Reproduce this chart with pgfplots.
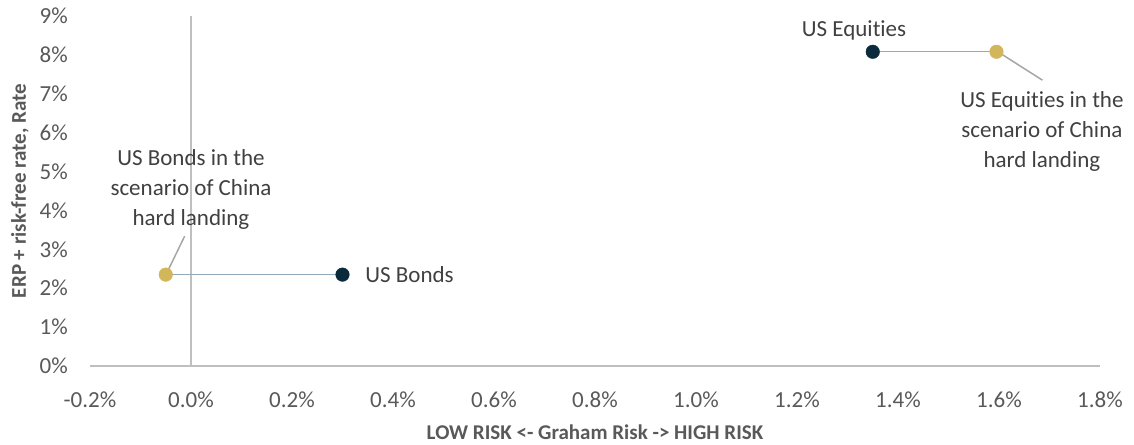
\documentclass[border=0pt]{standalone}
\usepackage{pgfplots}
\pgfplotsset{compat=1.18}
\usepackage{fontspec}
\setmainfont{Carlito}[Ligatures={NoCommon}]
\definecolor{navy}{HTML}{0B2B3C}
\definecolor{gold}{HTML}{D2B65B}
\definecolor{conn}{HTML}{93ABBA}
\definecolor{lead}{HTML}{A6A6A6}
\definecolor{axisgray}{HTML}{BFBFBF}
\definecolor{tickgray}{HTML}{595959}
\definecolor{txt}{HTML}{404040}
\begin{document}
\begin{tikzpicture}[x=1bp,y=1bp]
\useasboundingbox (0,0) rectangle (1134,445);
\begin{axis}[
  at={(90bp,79bp)}, anchor=south west,
  scale only axis, width=1010bp, height=350bp,
  xmin=-0.2, xmax=1.8, ymin=0, ymax=9,
  clip=false,
  axis line style={draw=none},
  major tick length=0pt,
  xtick={-0.2,0,0.2,0.4,0.6,0.8,1.0,1.2,1.4,1.6,1.8},
  ytick={0,1,2,3,4,5,6,7,8,9},
  /pgf/number format/assume math mode=true,
  xticklabel={\pgfmathprintnumber[fixed,fixed zerofill,precision=1]{\tick}\%},
  yticklabel={\pgfmathprintnumber[fixed,precision=0]{\tick}\%},
  tick label style={font=\fontsize{23bp}{28bp}\selectfont, text=tickgray},
  xticklabel style={anchor=center, yshift=-34bp},
  yticklabel style={anchor=east, inner sep=0pt, xshift=-22bp},
]
% axis lines at y=0 and x=0
\draw[axisgray, line width=1.6bp] (axis cs:-0.2,0) -- (axis cs:1.8,0);
\draw[axisgray, line width=1.6bp] (axis cs:0,0) -- (axis cs:0,9);
% connectors
\addplot[conn, line width=1bp, no marks] coordinates {(-0.05,2.35) (0.30,2.35)};
\addplot[conn, line width=1bp, no marks] coordinates {(1.35,8.08) (1.595,8.08)};
% points
\addplot[only marks, mark=*, mark size=6.8bp, draw=navy, fill=navy] coordinates {(0.30,2.35)};
\addplot[only marks, mark=*, mark size=6.8bp, draw=navy, fill=navy] coordinates {(1.35,8.08)};
\addplot[only marks, mark=*, mark size=6.8bp, draw=gold, fill=gold] coordinates {(-0.05,2.35)};
\addplot[only marks, mark=*, mark size=6.8bp, draw=gold, fill=gold] coordinates {(1.595,8.08)};
% leader lines
\draw[lead, line width=1.5bp] (axis cs:-0.0125,3.34) -- (axis cs:-0.048,2.39);
\draw[lead, line width=1.5bp] (axis cs:1.599,8.07) -- (axis cs:1.686,7.35);
% data labels
\node[anchor=west, inner sep=0pt, text=txt, font=\fontsize{23bp}{29bp}\selectfont] at (axis cs:0.345,2.35) {US Bonds};
\node[align=center, inner sep=0pt, text=txt, font=\fontsize{23bp}{30bp}\selectfont] at (axis cs:0.0,4.55) {US Bonds in the\\scenario of China\\hard landing};
\node[inner sep=0pt, text=txt, font=\fontsize{23bp}{29bp}\selectfont] at (axis cs:1.313,8.62) {US Equities};
\node[align=center, inner sep=0pt, text=txt, font=\fontsize{23bp}{30bp}\selectfont] at (axis cs:1.685,6.04) {US Equities in the\\scenario of China\\hard landing};
% axis titles
\node[font=\bfseries\fontsize{21bp}{25bp}\selectfont, text=tickgray] at (rel axis cs:0.5,-0.1886) {LOW RISK <- Graham Risk -> HIGH RISK};
\node[font=\bfseries\fontsize{21bp}{25bp}\selectfont, text=tickgray, rotate=90] at (rel axis cs:-0.0693,0.5) {ERP + risk-free rate, Rate};
\end{axis}
\end{tikzpicture}
\end{document}
